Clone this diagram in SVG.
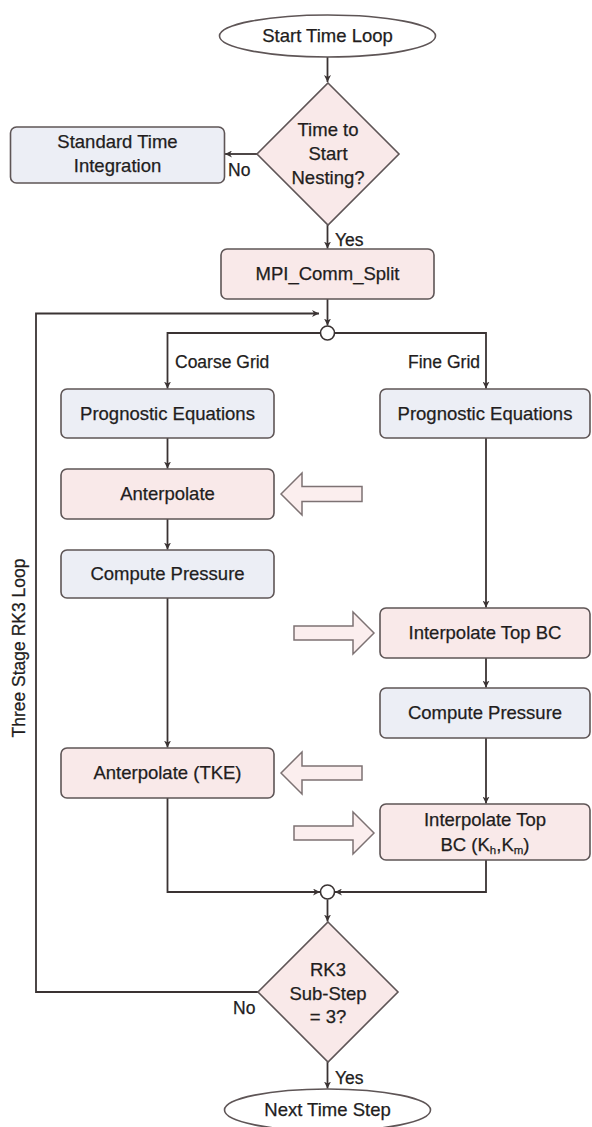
<svg xmlns="http://www.w3.org/2000/svg" width="592" height="1127" viewBox="0 0 592 1127">
  <defs>
    <marker id="arr" viewBox="0 0 10 10" refX="10" refY="5" markerWidth="7" markerHeight="7" markerUnits="userSpaceOnUse" orient="auto">
      <path d="M0,0 L10,5 L0,10 L3,5 Z" fill="#3a3333"/>
    </marker>
  </defs>
  <style>
    text { font-family: "Liberation Sans", Arial, sans-serif; font-size: 18.5px; fill: #221d1d; stroke: #221d1d; stroke-width: 0.25; text-anchor: middle; }
    .lbl { font-size: 17.5px; }
    .start { text-anchor: start; }
    .end { text-anchor: end; }
    .pink { fill: #f9e9e9; stroke: #5e5556; stroke-width: 1.6; }
    .blue { fill: #eceef5; stroke: #5e5556; stroke-width: 1.6; }
    .term { fill: #ffffff; stroke: #5e5556; stroke-width: 1.6; }
    .wire { fill: none; stroke: #3a3333; stroke-width: 1.8; }
    .hollow { fill: #fbeeee; stroke: #7d7273; stroke-width: 1.5; stroke-linejoin: miter; }
    .dot { fill: #ffffff; stroke: #3a3333; stroke-width: 1.6; }
  </style>
  <rect width="592" height="1127" fill="#ffffff"/>

  <!-- connectors -->
  <g id="connectors">
    <path class="wire" d="M327.5,57 V82" marker-end="url(#arr)"/>
    <path class="wire" d="M257,154 H225" marker-end="url(#arr)"/>
    <path class="wire" d="M327.5,225 V248.5" marker-end="url(#arr)"/>
    <path class="wire" d="M327.5,299 V325.5" marker-end="url(#arr)"/>
    <path class="wire" d="M258,992 H36 V313.5 H319" marker-end="url(#arr)"/>
    <path class="wire" d="M320.5,333 H167.5 V388.5" marker-end="url(#arr)"/>
    <path class="wire" d="M334.5,333 H486 V388.5" marker-end="url(#arr)"/>
    <path class="wire" d="M167.5,438 V468.5" marker-end="url(#arr)"/>
    <path class="wire" d="M167.5,519 V549.5" marker-end="url(#arr)"/>
    <path class="wire" d="M167.5,598 V747.5" marker-end="url(#arr)"/>
    <path class="wire" d="M167.5,798 V892 H320" marker-end="url(#arr)"/>
    <path class="wire" d="M486,438 V607.5" marker-end="url(#arr)"/>
    <path class="wire" d="M486,658 V687.5" marker-end="url(#arr)"/>
    <path class="wire" d="M486,738 V803.5" marker-end="url(#arr)"/>
    <path class="wire" d="M486,860 V892 H335" marker-end="url(#arr)"/>
    <path class="wire" d="M327.5,899.5 V921.5" marker-end="url(#arr)"/>
    <path class="wire" d="M327.5,1062 V1088.5" marker-end="url(#arr)"/>
    <circle class="dot" cx="327.5" cy="333" r="7"/>
    <circle class="dot" cx="327.5" cy="892" r="7"/>
    <text class="lbl start" x="228" y="176">No</text>
    <text class="lbl start" x="335" y="246">Yes</text>
    <text class="lbl start" x="175" y="368">Coarse Grid</text>
    <text class="lbl end" x="480" y="368">Fine Grid</text>
    <text class="lbl start" x="233" y="1014">No</text>
    <text class="lbl start" x="335" y="1084">Yes</text>
    <text class="lbl" transform="translate(25,648) rotate(-90)">Three Stage RK3 Loop</text>
  </g>

  <!-- data exchange between grids -->
  <g id="exchange">
    <polygon class="hollow" points="281,494 302,473 302,486.5 362,486.5 362,501.5 302,501.5 302,515"/>
    <polygon class="hollow" points="374,633 353,612 353,626 294,626 294,640 353,640 353,654"/>
    <polygon class="hollow" points="281,773 302,752 302,766 362,766 362,780 302,780 302,794"/>
    <polygon class="hollow" points="374,833 353,812 353,826 294,826 294,840 353,840 353,854"/>
  </g>

  <g id="start">
    <ellipse class="term" cx="327.5" cy="36" rx="108" ry="21"/>
    <text x="327.5" y="42">Start Time Loop</text>
  </g>

  <g id="nest-check">
    <polygon class="pink" points="328,83 399,154 328,225 257,154"/>
    <text x="328" y="136">Time to</text>
    <text x="328" y="160">Start</text>
    <text x="328" y="184">Nesting?</text>
  </g>

  <g id="standard">
    <rect class="blue" x="10.5" y="127" width="214" height="56" rx="6"/>
    <text x="117.5" y="148">Standard Time</text>
    <text x="117.5" y="172">Integration</text>
  </g>

  <g id="comm-split">
    <rect class="pink" x="221" y="249" width="213" height="50" rx="6"/>
    <text x="327.5" y="280">MPI_Comm_Split</text>
  </g>

  <g id="coarse-prognostic">
    <rect class="blue" x="61" y="389" width="213" height="49" rx="6"/>
    <text x="167.5" y="420">Prognostic Equations</text>
  </g>

  <g id="coarse-anterpolate">
    <rect class="pink" x="61" y="469" width="213" height="50" rx="6"/>
    <text x="167.5" y="500">Anterpolate</text>
  </g>

  <g id="coarse-pressure">
    <rect class="blue" x="61" y="550" width="213" height="48" rx="6"/>
    <text x="167.5" y="580">Compute Pressure</text>
  </g>

  <g id="coarse-anterpolate-tke">
    <rect class="pink" x="61" y="748" width="213" height="50" rx="6"/>
    <text x="167.5" y="779">Anterpolate (TKE)</text>
  </g>

  <g id="fine-prognostic">
    <rect class="blue" x="380" y="389" width="210" height="49" rx="6"/>
    <text x="485" y="420">Prognostic Equations</text>
  </g>

  <g id="fine-interpolate">
    <rect class="pink" x="380" y="608" width="210" height="50" rx="6"/>
    <text x="485" y="639">Interpolate Top BC</text>
  </g>

  <g id="fine-pressure">
    <rect class="blue" x="380" y="688" width="210" height="50" rx="6"/>
    <text x="485" y="719">Compute Pressure</text>
  </g>

  <g id="fine-interpolate-k">
    <rect class="pink" x="380" y="804" width="210" height="56" rx="6"/>
    <text x="485" y="826">Interpolate Top</text>
    <text x="485" y="851">BC (K<tspan font-size="11.5" dy="3">h</tspan><tspan dy="-3">,K</tspan><tspan font-size="11.5" dy="3">m</tspan><tspan dy="-3">)</tspan></text>
  </g>

  <g id="substep-check">
    <polygon class="pink" points="328,922 398,992 328,1062 258,992"/>
    <text x="328" y="976">RK3</text>
    <text x="328" y="1000">Sub-Step</text>
    <text x="328" y="1023">= 3?</text>
  </g>

  <g id="next">
    <ellipse class="term" cx="327.5" cy="1110" rx="103" ry="21"/>
    <text x="327.5" y="1116">Next Time Step</text>
  </g>
</svg>
